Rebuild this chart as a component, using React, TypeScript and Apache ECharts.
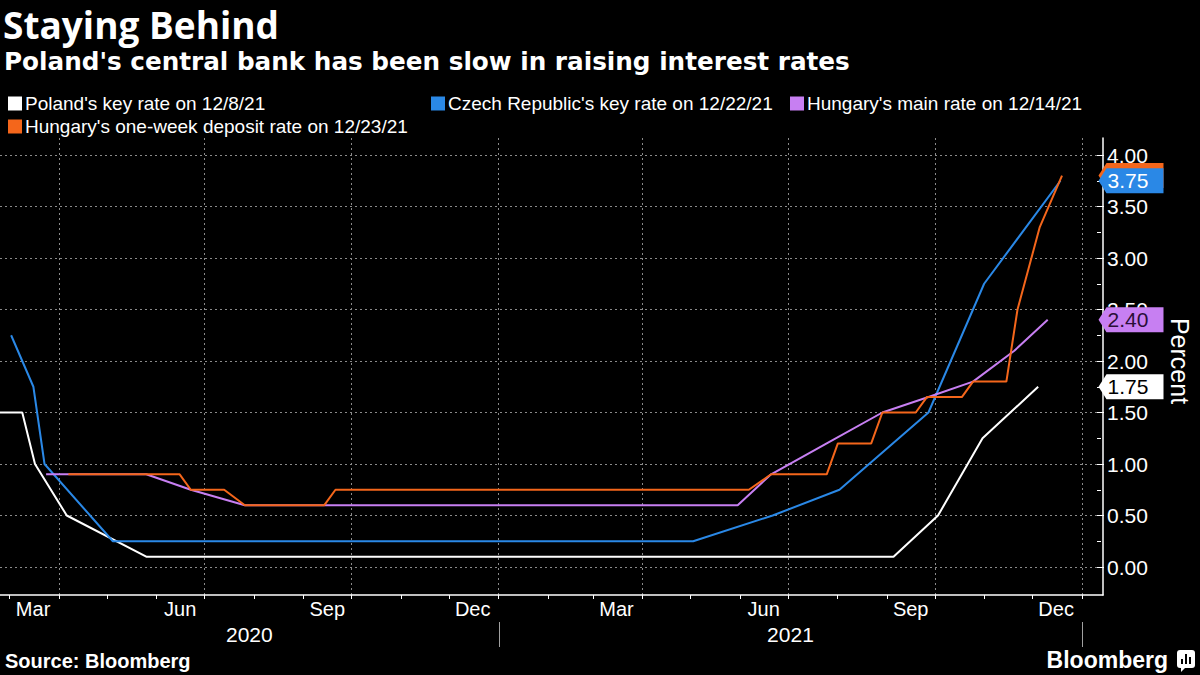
import React, { useEffect, useRef } from 'react';
import * as echarts from 'echarts';

const TITLE = 'Staying Behind';
const SUBTITLE = "Poland's central bank has been slow in raising interest rates";
const SOURCE = 'Source: Bloomberg';
const BRAND = 'Bloomberg';
const Y_NAME = 'Percent';

const X_START = '2020-02-24';
const X_END = '2022-01-14';
const Y_MIN = 0;
const Y_MAX = 4;
const Y_STEP = 0.5;

const MONTH_LABELS: Record<number, string> = { 2: 'Mar', 5: 'Jun', 8: 'Sep', 11: 'Dec' };
const YEAR_LABELS = ['2020', '2021'];
const YEAR_STARTS = ['2020-01-01', '2021-01-01', '2022-01-01'];

const SERIES_NAMES = [
  "Poland's key rate on 12/8/21",
  "Czech Republic's key rate on 12/22/21",
  "Hungary's main rate on 12/14/21",
  "Hungary's one-week deposit rate on 12/23/21",
];
const SERIES_COLORS = ['#ffffff', '#2a88e6', '#c77ff2', '#f4661b'];
const TAG_TEXT_COLORS = ['#000000', '#ffffff', '#2a0f38', '#ffffff'];

const polandDates = ['2020-02-24', '2020-03-09', '2020-03-17', '2020-04-06', '2020-05-26', '2021-09-08', '2021-10-06', '2021-11-03', '2021-12-08'];
const polandRates = [1.5, 1.5, 1.0, 0.5, 0.1, 0.1, 0.5, 1.25, 1.75];

const czechDates = ['2020-03-02', '2020-03-16', '2020-03-23', '2020-05-05', '2021-05-05', '2021-06-24', '2021-08-05', '2021-09-30', '2021-11-04', '2021-12-22'];
const czechRates = [2.25, 1.75, 1.0, 0.25, 0.25, 0.5, 0.75, 1.5, 2.75, 3.75];

const hungaryMainDates = ['2020-03-24', '2020-05-26', '2020-06-23', '2020-07-27', '2021-06-02', '2021-06-23', '2021-07-28', '2021-09-01', '2021-09-30', '2021-10-28', '2021-11-23', '2021-12-14'];
const hungaryMainRates = [0.9, 0.9, 0.75, 0.6, 0.6, 0.9, 1.2, 1.5, 1.65, 1.8, 2.1, 2.4];

const hungaryDepositDates = ['2020-04-07', '2020-06-16', '2020-06-23', '2020-07-14', '2020-07-27', '2020-09-15', '2020-09-22', '2021-06-09', '2021-06-23', '2021-07-28', '2021-08-04', '2021-08-25', '2021-09-01', '2021-09-22', '2021-09-29', '2021-10-21', '2021-10-28', '2021-11-18', '2021-11-25', '2021-12-09', '2021-12-23'];
const hungaryDepositRates = [0.9, 0.9, 0.75, 0.75, 0.6, 0.6, 0.75, 0.75, 0.9, 0.9, 1.2, 1.2, 1.5, 1.5, 1.65, 1.65, 1.8, 1.8, 2.5, 3.3, 3.8];

const SERIES_DATES = [polandDates, czechDates, hungaryMainDates, hungaryDepositDates];
const SERIES_VALUES = [polandRates, czechRates, hungaryMainRates, hungaryDepositRates];

const LIB = "'Liberation Sans', Arial, sans-serif";
const DAY = 24 * 3600 * 1000;

const toTs = (s: string) => {
  const [y, m, d] = s.split('-').map(Number);
  return new Date(y, m - 1, d).getTime();
};

export default function App() {
  const ref = useRef<HTMLDivElement>(null);

  useEffect(() => {
    document.body.style.margin = '0';
    document.body.style.background = '#000';
    const el = ref.current!;
    const chart = echarts.init(el, null, { renderer: 'svg', width: 1200, height: 675 });
    const xMin = toTs(X_START);
    const xMax = toTs(X_END);

    const tagPath = 'path://M0,12.5L8,0L65,0L65,25L8,25Z';

    const series = SERIES_NAMES.map((name, i) => {
      const dates = SERIES_DATES[i];
      const vals = SERIES_VALUES[i];
      const last = vals[vals.length - 1];
      return {
        name,
        type: 'line',
        xAxisIndex: 2,
        yAxisIndex: 1,
        color: SERIES_COLORS[i],
        showSymbol: false,
        symbol: 'none',
        lineStyle: { color: SERIES_COLORS[i], width: 2 },
        data: dates.map((d, k) => [toTs(d), vals[k]]),
        markPoint: {
          z: i === 1 ? 12 : 6,
          silent: true,
          symbol: tagPath,
          symbolSize: [65, 25],
          symbolKeepAspect: false,
          symbolOffset: [34, 0],
          itemStyle: { color: SERIES_COLORS[i] },
          label: {
            show: true,
            position: 'inside',
            offset: [-3, 0],
            color: TAG_TEXT_COLORS[i],
            fontSize: 21,
            fontFamily: LIB,
            formatter: () => last.toFixed(2),
          },
          data: [{ coord: [xMax, last], value: last }],
        },
      };
    });

    const legendPos = [
      { left: 8, top: 94 },
      { left: 431, top: 94 },
      { left: 790, top: 94 },
      { left: 8, top: 117 },
    ];

    const option: any = {
      animation: false,
      backgroundColor: '#000',
      textStyle: { fontFamily: LIB },
      grid: [
        { left: 0, right: 97, top: 138, bottom: 80 },
        { left: 0, right: 97, top: 155, bottom: 108 },
      ],
      xAxis: [
        {
          gridIndex: 0,
          type: 'time',
          min: xMin,
          max: xMax,
          minInterval: 40 * DAY,
          maxInterval: 40 * DAY,
          axisLine: { show: true, lineStyle: { color: '#ffffff', width: 1.5 } },
          axisTick: { show: true, length: 4, lineStyle: { color: '#ffffff', width: 1 } },
          axisLabel: {
            show: true,
            color: '#ffffff',
            fontSize: 20,
            fontFamily: LIB,
            margin: 4,
            align: 'center',
            padding: [0, 0, 0, 47],
            hideOverlap: false,
            formatter: (v: number) => {
              const d = new Date(v);
              if (d.getDate() !== 1) return '';
              return MONTH_LABELS[d.getMonth()] || '';
            },
          },
          splitLine: { show: false },
        },
        {
          gridIndex: 0,
          type: 'time',
          min: xMin,
          max: xMax,
          minInterval: 100 * DAY,
          maxInterval: 100 * DAY,
          axisLine: { show: false },
          axisTick: { show: false },
          axisLabel: { show: false },
          splitLine: {
            show: true,
            showMinLine: false,
            showMaxLine: false,
            lineStyle: { color: '#8a8a8a', type: [2, 3], width: 1 },
          },
        },
        { gridIndex: 1, type: 'time', min: xMin, max: xMax, show: false },
      ],
      yAxis: [
        {
          gridIndex: 0,
          type: 'value',
          position: 'right',
          min: 0,
          max: 1,
          axisLine: { show: true, lineStyle: { color: '#ffffff', width: 1.5 } },
          axisTick: { show: false },
          axisLabel: { show: false },
          splitLine: { show: false },
        },
        {
          gridIndex: 1,
          type: 'value',
          position: 'right',
          min: Y_MIN,
          max: Y_MAX,
          interval: Y_STEP,
          name: Y_NAME,
          nameLocation: 'middle',
          nameRotate: -90,
          nameGap: 70,
          nameTextStyle: { color: '#ffffff', fontSize: 25, fontFamily: LIB },
          axisLine: { show: false },
          axisTick: { show: true, length: 7, lineStyle: { color: '#ffffff', width: 1 } },
          minorTick: { show: true, splitNumber: 2, length: 4, lineStyle: { color: '#ffffff', width: 1 } },
          axisLabel: {
            show: true,
            color: '#ffffff',
            fontSize: 21,
            fontFamily: LIB,
            margin: 10,
            formatter: (v: number) => v.toFixed(2),
          },
          splitLine: { show: true, lineStyle: { color: '#8a8a8a', type: [2, 3], width: 1 } },
        },
      ],
      legend: SERIES_NAMES.map((name, i) => ({
        ...legendPos[i],
        padding: 0,
        selectedMode: false,
        orient: 'horizontal',
        itemWidth: 14,
        itemHeight: 14,
        icon: 'rect',
        data: [{ name, icon: 'rect' }],
        textStyle: { color: '#ffffff', fontSize: 19, fontFamily: LIB, padding: [0, 0, 0, -2] },
      })),
      series,
    };

    chart.setOption(option);

    const px = (s: string) => chart.convertToPixel({ xAxisIndex: 0 }, toTs(s)) as number;
    const xLeft = px(X_START);
    const xRight = px(X_END);
    const yearGraphics: any[] = [];
    YEAR_LABELS.forEach((label, i) => {
      const a = Math.max(xLeft, px(YEAR_STARTS[i]));
      const b = Math.min(xRight, px(YEAR_STARTS[i + 1]));
      yearGraphics.push({
        type: 'text',
        id: 'year-' + label,
        x: (a + b) / 2,
        y: 634,
        style: { text: label, fill: '#ffffff', font: `21px ${LIB}`, align: 'center', verticalAlign: 'middle' },
      });
    });
    YEAR_STARTS.forEach((s, i) => {
      const x = px(s);
      if (x > xLeft + 1 && x < xRight + 1) {
        yearGraphics.push({
          type: 'line',
          id: 'sep-' + i,
          shape: { x1: Math.round(x) + 0.5, y1: 622, x2: Math.round(x) + 0.5, y2: 647 },
          style: { stroke: '#a0a0a0', lineWidth: 1 },
        });
      }
    });

    chart.setOption({
      graphic: {
        elements: [
          {
            type: 'text', id: 'title', x: 3, y: 24,
            style: { text: TITLE, fill: '#ffffff', font: "bold 37px 'Open Sans', sans-serif", verticalAlign: 'middle' },
          },
          {
            type: 'text', id: 'subtitle', x: 4, y: 61,
            style: { text: SUBTITLE, fill: '#ffffff', font: "bold 24.7px 'DejaVu Sans', sans-serif", verticalAlign: 'middle' },
          },
          {
            type: 'text', id: 'source', x: 5, y: 661,
            style: { text: SOURCE, fill: '#ffffff', font: `bold 20px ${LIB}`, verticalAlign: 'middle' },
          },
          {
            type: 'text', id: 'brand', x: 1168, y: 660,
            style: { text: BRAND, fill: '#ffffff', font: `bold 23px ${LIB}`, align: 'right', verticalAlign: 'middle' },
          },
          {
            type: 'group', id: 'brand-icon', x: 1177, y: 650,
            children: [
              { type: 'rect', shape: { x: 0, y: 0, width: 18, height: 18, r: 3 }, style: { fill: '#ffffff' } },
              { type: 'polygon', shape: { points: [[4, 17], [9, 17], [4, 22]] }, style: { fill: '#ffffff' } },
              { type: 'rect', shape: { x: 4, y: 9, width: 2, height: 5 }, style: { fill: '#000000' } },
              { type: 'rect', shape: { x: 8, y: 4, width: 2, height: 10 }, style: { fill: '#000000' } },
              { type: 'rect', shape: { x: 12, y: 7, width: 2, height: 7 }, style: { fill: '#000000' } },
            ],
          },
          ...yearGraphics,
        ],
      },
    });

    return () => chart.dispose();
  }, []);

  return (
    <div
      ref={ref}
      style={{ position: 'absolute', left: 0, top: 0, width: 1200, height: 675, background: '#000' }}
    />
  );
}
